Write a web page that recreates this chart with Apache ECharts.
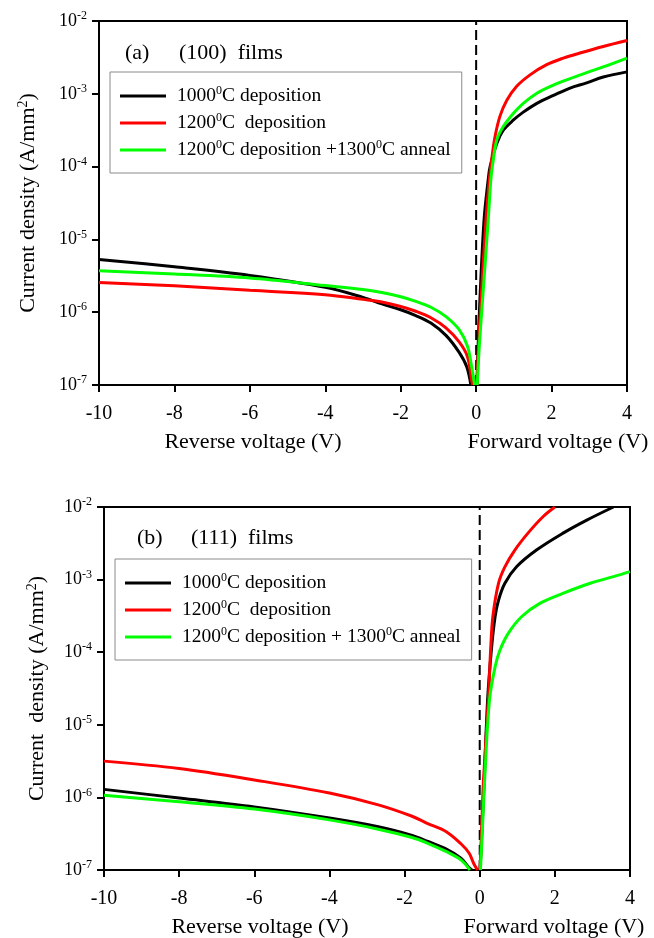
<!DOCTYPE html>
<html><head><meta charset="utf-8">
<script src="https://cdn.jsdelivr.net/npm/echarts@6/dist/echarts.min.js"></script>
<style>html,body{margin:0;padding:0;background:#fff}#c{width:654px;height:938px}</style>
</head><body><div id="c"></div>
<script>
// ---------- data ----------
const xTickValues = [-10, -8, -6, -4, -2, 0, 2, 4];
const yDecadeExponents = [-7, -6, -5, -4, -3, -2];

const legendA = ['1000{s|0}C deposition', '1200{s|0}C  deposition', '1200{s|0}C deposition +1300{s|0}C anneal'];
const legendB = ['1000{s|0}C deposition', '1200{s|0}C  deposition', '1200{s|0}C deposition + 1300{s|0}C anneal'];

// (a) (100) films  [voltage, current density A/mm^2]
const a1000Rev = [[-10,5.3e-6],[-8,4.2e-6],[-6,3.2e-6],[-4,2.2e-6],[-3,1.6e-6],[-2.5,1.3e-6],[-2,1.08e-6],[-1.6,9.0e-7],[-1.2,7.1e-7],[-0.8,4.8e-7],[-0.45,2.8e-7],[-0.25,1.78e-7],[-0.14,1.0e-7]];
const a1000Fwd = [[0.02,1.0e-7],[0.05,3.2e-7],[0.10,1.48e-6],[0.21,1.86e-5],[0.32,6.6e-5],[0.37,1.0e-4],[0.55,2.1e-4],[0.72,3.16e-4],[0.99,4.37e-4],[1.25,5.6e-4],[1.61,7.4e-4],[2.05,9.5e-4],[2.49,1.2e-3],[2.93,1.41e-3],[3.37,1.7e-3],[4,2.0e-3]];
const a1200Rev = [[-10,2.55e-6],[-8,2.3e-6],[-6,2.0e-6],[-4,1.74e-6],[-3,1.5e-6],[-2.5,1.38e-6],[-2,1.2e-6],[-1.6,1.03e-6],[-1.2,8.4e-7],[-0.8,6.1e-7],[-0.45,3.9e-7],[-0.23,2.45e-7],[-0.12,1.17e-7],[-0.09,1.0e-7]];
const a1200Fwd = [[0.025,1.0e-7],[0.06,3.2e-7],[0.13,1.48e-6],[0.26,1.86e-5],[0.35,6.6e-5],[0.41,1.23e-4],[0.50,2.57e-4],[0.63,4.9e-4],[0.81,8.1e-4],[1.07,1.26e-3],[1.43,1.82e-3],[1.87,2.51e-3],[2.31,3.09e-3],[2.75,3.63e-3],[3.37,4.47e-3],[4,5.4e-3]];
const a1300Rev = [[-10,3.7e-6],[-8,3.35e-6],[-6,2.95e-6],[-4,2.32e-6],[-3,2.05e-6],[-2.5,1.86e-6],[-2,1.63e-6],[-1.6,1.41e-6],[-1.2,1.17e-6],[-0.8,8.7e-7],[-0.45,5.75e-7],[-0.23,3.4e-7],[-0.12,1.78e-7],[-0.04,1.0e-7]];
const a1300Fwd = [[0.03,1.0e-7],[0.08,3.2e-7],[0.17,1.48e-6],[0.32,1.86e-5],[0.39,6.6e-5],[0.43,1.0e-4],[0.55,2.34e-4],[0.72,3.55e-4],[0.99,5.4e-4],[1.25,7.4e-4],[1.61,1.02e-3],[2.05,1.32e-3],[2.49,1.62e-3],[2.93,1.95e-3],[3.37,2.34e-3],[4,3.1e-3]];

// (b) (111) films
const b1000Rev = [[-10,1.29e-6],[-8,9.8e-7],[-6,7.4e-7],[-4,5.2e-7],[-2.7,3.95e-7],[-1.8,3.0e-7],[-1.4,2.5e-7],[-0.9,1.95e-7],[-0.5,1.45e-7],[-0.3,1.1e-7],[-0.21,1.0e-7]];
const b1000Fwd = [[0.01,1.0e-7],[0.06,3.5e-7],[0.12,1.7e-6],[0.21,2.2e-5],[0.31,1.07e-4],[0.41,3.1e-4],[0.50,5.2e-4],[0.67,8.9e-4],[0.98,1.5e-3],[1.52,2.57e-3],[2.23,4.4e-3],[2.85,6.6e-3],[3.56,1.0e-2]];
const b1200Rev = [[-10,3.16e-6],[-8,2.5e-6],[-6,1.74e-6],[-4,1.15e-6],[-2.7,7.9e-7],[-1.8,5.5e-7],[-1.4,4.4e-7],[-0.9,3.4e-7],[-0.5,2.3e-7],[-0.28,1.7e-7],[-0.16,1.23e-7],[-0.06,1.0e-7]];
const b1200Fwd = [[0.01,1.0e-7],[0.05,3.5e-7],[0.10,1.7e-6],[0.23,2.2e-5],[0.29,1.07e-4],[0.35,3.1e-4],[0.50,8.9e-4],[0.67,1.5e-3],[0.94,2.57e-3],[1.29,4.4e-3],[1.69,7.4e-3],[2.0,1.0e-2]];
const b1300Rev = [[-10,1.07e-6],[-8,8.7e-7],[-6,6.9e-7],[-4,4.9e-7],[-2.7,3.65e-7],[-1.8,2.8e-7],[-1.4,2.35e-7],[-0.9,1.8e-7],[-0.5,1.38e-7],[-0.26,1.0e-7]];
const b1300Fwd = [[0.02,1.0e-7],[0.07,3.5e-7],[0.13,1.7e-6],[0.26,2.2e-5],[0.41,6.3e-5],[0.54,1.07e-4],[0.76,1.82e-4],[1.12,3.1e-4],[1.60,4.7e-4],[2.23,6.5e-4],[2.94,8.9e-4],[3.56,1.1e-3],[4,1.29e-3]];

const zeroLine = [[0, 1e-7], [0, 1e-2]];

// ---------- chart ----------
const F = '"Liberation Serif", "Times New Roman", serif';
const colors = ['#000000', '#ff0000', '#00ff00'];
const chart = echarts.init(document.getElementById('c'), null, {renderer: 'canvas'});

function curve(name, rev, fwd, color, gi) {
  return {
    type: 'line', name: name, xAxisIndex: gi, yAxisIndex: gi,
    data: rev.concat([[0, '-']], fwd),
    showSymbol: false, symbol: 'none', smooth: 0.35,
    connectNulls: false, clip: true,
    lineStyle: {color: color, width: 3}, itemStyle: {color: color},
    emphasis: {disabled: true}, animation: false
  };
}
function dash(gi) {
  return {type: 'line', name: 'zero' + gi, xAxisIndex: gi, yAxisIndex: gi, data: zeroLine,
    symbol: 'none', silent: true, lineStyle: {color: '#000', width: 2, type: [10, 5]}, animation: false, z: 1};
}
function xAx(gi) {
  return {type: 'value', gridIndex: gi, min: xTickValues[0], max: xTickValues[xTickValues.length - 1], interval: 2,
    axisLine: {show: true, onZero: false, lineStyle: {color: '#000', width: 2}},
    axisTick: {show: true, length: 7, lineStyle: {color: '#000', width: 2}},
    axisLabel: {fontSize: 20, fontFamily: F, color: '#000', margin: 19},
    splitLine: {show: false}};
}
function yAx(gi, name, gap) {
  return {type: 'log', logBase: 10, gridIndex: gi,
    min: Math.pow(10, yDecadeExponents[0]), max: Math.pow(10, yDecadeExponents[yDecadeExponents.length - 1]),
    axisLine: {show: true, onZero: false, lineStyle: {color: '#000', width: 2}},
    axisTick: {show: true, length: 7, lineStyle: {color: '#000', width: 2}},
    minorTick: {show: false}, splitLine: {show: false},
    axisLabel: {margin: 12, color: '#000',
      formatter: v => '{b|10}{s|' + Math.round(Math.log10(v)) + '}',
      rich: {b: {fontSize: 18, fontFamily: F, color: '#000', lineHeight: 22},
             s: {fontSize: 12, fontFamily: F, color: '#000', lineHeight: 12, verticalAlign: 'top'}}},
    name: name, nameLocation: 'middle', nameGap: gap,
    nameTextStyle: {rich: {t: {fontSize: 22, fontFamily: F, color: '#000', lineHeight: 24},
                           s: {fontSize: 14, fontFamily: F, color: '#000', lineHeight: 14, verticalAlign: 'top'}}}};
}
function legend(names, labels, left, top) {
  const map = {}; names.forEach((n, i) => map[n] = labels[i]);
  return {show: true, orient: 'vertical', left: left, top: top, data: names,
    icon: 'rect', itemWidth: 46, itemHeight: 3, itemGap: 5,
    padding: [13, 11, 12, 10], borderColor: '#8a8a8a', borderWidth: 1, backgroundColor: '#fff',
    selectedMode: false,
    formatter: n => map[n],
    textStyle: {fontSize: 19.5, fontFamily: F, color: '#000', lineHeight: 22, padding: [0, 0, 0, 6],
      rich: {s: {fontSize: 12, fontFamily: F, color: '#000', lineHeight: 12, verticalAlign: 'top'}}}};
}
function txt(x, y, t, size, align) {
  return {type: 'text', x: x, y: y, silent: true,
    style: {text: t, font: size + 'px ' + F, fill: '#000', align: align || 'left', verticalAlign: 'middle'}};
}

const namesA = ['a1000', 'a1200', 'a1300'];
const namesB = ['b1000', 'b1200', 'b1300'];

chart.setOption({
  animation: false,
  backgroundColor: '#fff',
  grid: [
    {left: 99, top: 21, width: 528, height: 364, show: true, borderColor: '#000', borderWidth: 2, backgroundColor: 'transparent'},
    {left: 104, top: 507, width: 526, height: 363, show: true, borderColor: '#000', borderWidth: 2, backgroundColor: 'transparent'}
  ],
  xAxis: [xAx(0), xAx(1)],
  yAxis: [yAx(0, '{t|Current density (A/mm}{s|2}{t|)}', 59), yAx(1, '{t|Current  density (A/mm}{s|2}{t|)}', 55)],
  legend: [legend(namesA, legendA, 110, 72), legend(namesB, legendB, 115, 559)],
  series: [
    dash(0), dash(1),
    curve('a1000', a1000Rev, a1000Fwd, colors[0], 0),
    curve('a1200', a1200Rev, a1200Fwd, colors[1], 0),
    curve('a1300', a1300Rev, a1300Fwd, colors[2], 0),
    curve('b1000', b1000Rev, b1000Fwd, colors[0], 1),
    curve('b1200', b1200Rev, b1200Fwd, colors[1], 1),
    curve('b1300', b1300Rev, b1300Fwd, colors[2], 1)
  ],
  graphic: [
    txt(125, 53, '(a)', 22), txt(179, 53, '(100)  films', 22),
    txt(137, 538, '(b)', 22), txt(191, 538, '(111)  films', 22),
    txt(253, 442, 'Reverse voltage (V)', 22, 'center'), txt(558, 442, 'Forward voltage (V)', 22, 'center'),
    txt(260, 927, 'Reverse voltage (V)', 22, 'center'), txt(554, 927, 'Forward voltage (V)', 22, 'center')
  ]
});
</script></body></html>
